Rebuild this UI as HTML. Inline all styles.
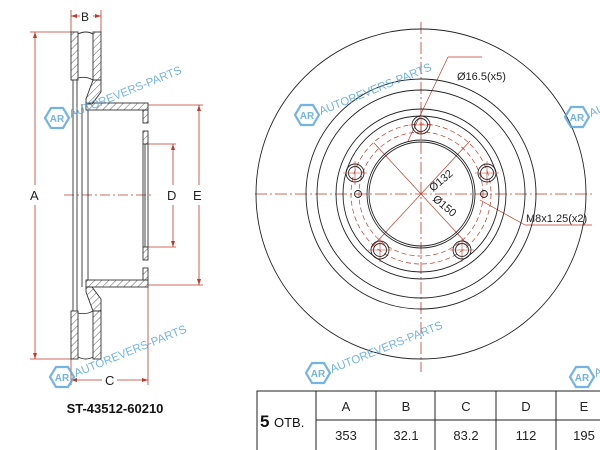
<!DOCTYPE html>
<html><head><meta charset="utf-8"><style>
html,body{margin:0;padding:0;background:#fff;}
svg{display:block;}
text{font-family:"Liberation Sans",Arial,sans-serif;}
</style></head><body>
<svg width="600" height="450" viewBox="0 0 600 450" xmlns="http://www.w3.org/2000/svg">
<defs>
<pattern id="h" width="5" height="5" patternUnits="userSpaceOnUse" patternTransform="rotate(45)">
<line x1="0" y1="0" x2="0" y2="5" stroke="#333" stroke-width="0.8"/>
</pattern>
<g id="wm">
<polygon points="-12,0 -6,-10 6,-10 12,0 6,10 -6,10" fill="none" stroke="#5aa7df" stroke-width="2.2"/>
<text x="0" y="4" font-size="10" text-anchor="middle" fill="#5aa7df" font-weight="bold">AR</text>
<text x="14" y="0" font-size="11.5" fill="#5aa7df" transform="rotate(-22 14 0)">AUTOREVERS-PARTS</text>
</g>
</defs>

<!-- ===== side view ===== -->
<g stroke="#c0392b" stroke-width="0.8" fill="none">
<!-- A -->
<line x1="30" y1="32" x2="72" y2="32"/><line x1="30" y1="359" x2="72" y2="359"/>
<line x1="35" y1="32" x2="35" y2="185"/><line x1="35" y1="205" x2="35" y2="359"/>
<!-- B -->
<line x1="71" y1="10" x2="71" y2="32"/><line x1="101" y1="10" x2="101" y2="32"/>
<line x1="71" y1="16" x2="80" y2="16"/><line x1="93" y1="16" x2="101" y2="16"/>
<!-- C -->
<line x1="71" y1="359" x2="71" y2="385"/><line x1="148" y1="287" x2="148" y2="385"/>
<line x1="71" y1="380" x2="102" y2="380"/><line x1="117" y1="380" x2="148" y2="380"/>
<!-- D -->
<line x1="146" y1="144" x2="176" y2="144"/><line x1="146" y1="247" x2="176" y2="247"/>
<line x1="173" y1="144" x2="173" y2="185"/><line x1="173" y1="205" x2="173" y2="247"/>
<!-- E -->
<line x1="148" y1="105" x2="203" y2="105"/><line x1="148" y1="285" x2="203" y2="285"/>
<line x1="199" y1="105" x2="199" y2="185"/><line x1="199" y1="205" x2="199" y2="285"/>
<!-- center line -->
<line x1="64" y1="195" x2="153" y2="195" stroke-dasharray="10,3,2,3"/>
</g>
<g fill="#c0392b">
<polygon points="35,32 33,38 37,38"/><polygon points="35,359 33,353 37,353"/>
<polygon points="71,16 77,14 77,18"/><polygon points="101,16 95,14 95,18"/>
<polygon points="71,380 77,378 77,382"/><polygon points="148,380 142,378 142,382"/>
<polygon points="173,144 171,150 175,150"/><polygon points="173,247 171,241 175,241"/>
<polygon points="199,105 197,111 201,111"/><polygon points="199,285 197,279 201,279"/>
</g>
<g font-size="13" fill="#222">
<text x="30" y="200">A</text><text x="81" y="21" font-size="12">B</text>
<text x="105" y="385" font-size="13">C</text><text x="167" y="200">D</text><text x="193" y="200">E</text>
</g>
<!-- disc body -->
<g stroke="#333" stroke-width="0.9">
<rect x="71" y="32" width="7" height="48" fill="url(#h)"/>
<rect x="71" y="311" width="7" height="48" fill="url(#h)"/>
<rect x="93" y="32" width="8" height="48" fill="url(#h)"/>
<rect x="93" y="311" width="8" height="48" fill="url(#h)"/>
<polygon points="93,80 101,80 101,92 92,104 86,104 86,99" fill="url(#h)"/>
<polygon points="93,311 101,311 101,299 92,287 86,287 86,292" fill="url(#h)"/>
<rect x="86" y="103" width="62" height="7" fill="url(#h)"/>
<rect x="86" y="280" width="62" height="7" fill="url(#h)"/>
<rect x="143" y="110" width="5" height="13" fill="url(#h)"/>
<rect x="143" y="131" width="5" height="13" fill="url(#h)"/>
<rect x="143" y="247" width="5" height="13" fill="url(#h)"/>
<rect x="143" y="268" width="5" height="12" fill="url(#h)"/>
<line x1="148" y1="144" x2="148" y2="247" fill="none"/>
<line x1="143" y1="144" x2="143" y2="247" fill="none"/>
<line x1="145" y1="144" x2="145" y2="247" fill="none"/>
<line x1="73" y1="80" x2="73" y2="311"/>
<line x1="77" y1="80" x2="77" y2="311"/>
<line x1="82" y1="104" x2="82" y2="287"/>
<line x1="88" y1="110" x2="88" y2="280"/>
<path d="M78,34 Q86,30 93,34 M78,78 Q86,76 93,80 M78,313 Q86,315 93,311 M78,357 Q86,361 93,357" fill="none"/>
</g>

<!-- ===== front view ===== -->
<g stroke="#c0392b" stroke-width="0.8" fill="none" stroke-dasharray="12,3,2,3">
<line x1="421" y1="22" x2="421" y2="372"/>
<line x1="255" y1="194" x2="592" y2="194"/>
</g>
<g stroke="#c0392b" stroke-width="0.7" fill="none" stroke-dasharray="5,3">
<circle cx="421" cy="194" r="70"/>
<circle cx="421" cy="194" r="62"/>
</g>
<g stroke="#c0392b" stroke-width="0.7" fill="none">
<line x1="374" y1="143" x2="468" y2="245"/>
<line x1="372" y1="247" x2="470" y2="141"/>
<line x1="448" y1="57" x2="482" y2="57"/>
<line x1="448" y1="57" x2="408" y2="141"/>
<line x1="480" y1="200" x2="525" y2="225"/><line x1="525" y1="225" x2="592" y2="225"/>
</g>
<g stroke="#222" stroke-width="0.9" fill="none">
<circle cx="421" cy="194" r="165"/>
<circle cx="421" cy="194" r="115"/>
<circle cx="421" cy="194" r="104"/>
<circle cx="421" cy="194" r="85"/>
<circle cx="421" cy="194" r="78"/>
<circle cx="421" cy="194" r="54"/>
<circle cx="421" cy="194" r="52"/>
<circle cx="421" cy="125" r="9"/><circle cx="421" cy="125" r="6.5"/>
<circle cx="487" cy="173" r="9"/><circle cx="487" cy="173" r="6.5"/>
<circle cx="462" cy="250" r="9"/><circle cx="462" cy="250" r="6.5"/>
<circle cx="380" cy="250" r="9"/><circle cx="380" cy="250" r="6.5"/>
<circle cx="355" cy="173" r="9"/><circle cx="355" cy="173" r="6.5"/>
<circle cx="358" cy="194" r="3.5"/><circle cx="484" cy="194" r="3.5"/>
</g>
<g stroke="#c0392b" stroke-width="0.6">
<line x1="421" y1="113" x2="421" y2="137"/><line x1="409" y1="125" x2="433" y2="125"/>
<line x1="487" y1="161" x2="487" y2="185"/><line x1="475" y1="173" x2="499" y2="173"/>
<line x1="462" y1="238" x2="462" y2="262"/><line x1="450" y1="250" x2="474" y2="250"/>
<line x1="380" y1="238" x2="380" y2="262"/><line x1="368" y1="250" x2="392" y2="250"/>
<line x1="355" y1="161" x2="355" y2="185"/><line x1="343" y1="173" x2="367" y2="173"/>
</g>
<g font-size="11" fill="#222">
<text x="457" y="80">Ø16.5(x5)</text>
<text x="526" y="222">M8x1.25(x2)</text>
<text x="433" y="192" transform="rotate(-40 433 192)">Ø132</text>
<text x="432" y="200" transform="rotate(40 432 200)">Ø150</text>
</g>

<!-- watermarks -->
<g opacity="0.85">
<use href="#wm" x="57" y="118"/>
<use href="#wm" x="62" y="377"/>
<use href="#wm" x="307" y="115"/>
<use href="#wm" x="318" y="373"/>
<use href="#wm" x="577" y="117"/>
<use href="#wm" x="582" y="377"/>
</g>

<!-- part number -->
<text x="115" y="413" font-size="13" font-weight="bold" text-anchor="middle" fill="#111">ST-43512-60210</text>

<!-- table -->
<g stroke="#222" stroke-width="1" fill="none">
<rect x="257" y="391" width="350" height="60"/>
<line x1="316" y1="391" x2="316" y2="451"/>
<line x1="376" y1="391" x2="376" y2="451"/>
<line x1="435" y1="391" x2="435" y2="451"/>
<line x1="496" y1="391" x2="496" y2="451"/>
<line x1="556" y1="391" x2="556" y2="451"/>
<line x1="316" y1="420" x2="607" y2="420"/>
</g>
<g font-size="13" fill="#222" text-anchor="middle">
<text x="346" y="411">A</text><text x="406" y="411">B</text><text x="466" y="411">C</text><text x="526" y="411">D</text><text x="584" y="411">E</text>
<text x="346" y="440">353</text><text x="406" y="440">32.1</text><text x="466" y="440">83.2</text><text x="526" y="440">112</text><text x="584" y="440">195</text>
</g>
<text x="260" y="427" font-size="17" font-weight="bold" fill="#111">5</text>
<text x="274" y="427" font-size="13" fill="#111">ОТВ.</text>
</svg>
</body></html>
